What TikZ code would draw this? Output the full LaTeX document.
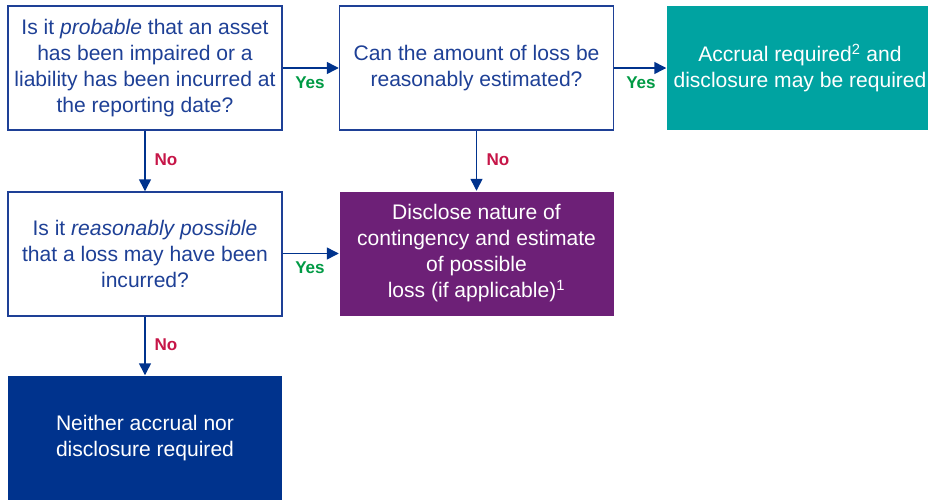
\documentclass[tikz,border=0pt]{standalone}
\usepackage{fontspec}
\setmainfont{Liberation Sans}
\usetikzlibrary{arrows.meta}

\definecolor{boxBlue}{RGB}{30,64,150}
\definecolor{navyFill}{RGB}{0,51,141}
\definecolor{tealFill}{RGB}{0,163,161}
\definecolor{purpleFill}{RGB}{109,32,119}
\definecolor{yesGreen}{RGB}{0,154,68}
\definecolor{noRed}{RGB}{198,22,72}

\tikzset{
  questionbox/.style={draw=boxBlue,line width=1.1pt,fill=white,text=boxBlue,
    minimum width=205.5pt,minimum height=93pt,align=center,
    font=\fontsize{15.8}{19.5}\selectfont,inner sep=0pt},
  outcomebox/.style={questionbox,draw=none,text=white},
  flowarrow/.style={draw=navyFill,line width=1.1pt,-{Triangle[width=9pt,length=9pt]}},
  yeslabel/.style={text=yesGreen,font=\fontsize{12.8}{14}\selectfont\bfseries},
  nolabel/.style={text=noRed,font=\fontsize{12.8}{14}\selectfont\bfseries}
}

\begin{document}
\begin{tikzpicture}[x=0.75pt,y=-0.75pt]% [ show background grid ]
\useasboundingbox (0,0) rectangle (928,500);

\node[questionbox] (probableQ) at (145,68)
  {Is it \textit{probable} that an asset\\has been impaired or a\\liability has been incurred at\\the reporting date?};
\node[questionbox] (estimateQ) at (476.5,68)
  {Can the amount of loss be\\reasonably estimated?};
\node[outcomebox,fill=tealFill,minimum width=199.5pt] (accrualOut) at (800,68)
  {Accrual required\textsuperscript{2} and\\disclosure may be required};

\node[questionbox] (possibleQ) at (145,254)
  {Is it \textit{reasonably possible}\\that a loss may have been\\incurred?};
\node[outcomebox,fill=purpleFill] (discloseOut) at (476.5,253.5)
  {Disclose nature of\\contingency and estimate\\of possible\\loss (if applicable)\textsuperscript{1}};

\node[outcomebox,fill=navyFill] (neitherOut) at (145,438)
  {Neither accrual nor\\disclosure required};

\draw[flowarrow] (probableQ) -- (estimateQ);
\draw[flowarrow] (estimateQ) -- (accrualOut);
\draw[flowarrow] (probableQ) -- (possibleQ);
\draw[flowarrow] (estimateQ) -- (discloseOut);
\draw[flowarrow] (possibleQ.east |- discloseOut) -- (discloseOut);
\draw[flowarrow] (possibleQ) -- (neitherOut);

\node[yeslabel] (yesOne) at (310,83) {Yes};
\node[yeslabel] (yesTwo) at (641,83) {Yes};
\node[yeslabel] (yesThree) at (310,268) {Yes};
\node[nolabel] (noOne) at (166,160) {No};
\node[nolabel] (noTwo) at (498,160) {No};
\node[nolabel] (noThree) at (166,345) {No};
\end{tikzpicture}
\end{document}
